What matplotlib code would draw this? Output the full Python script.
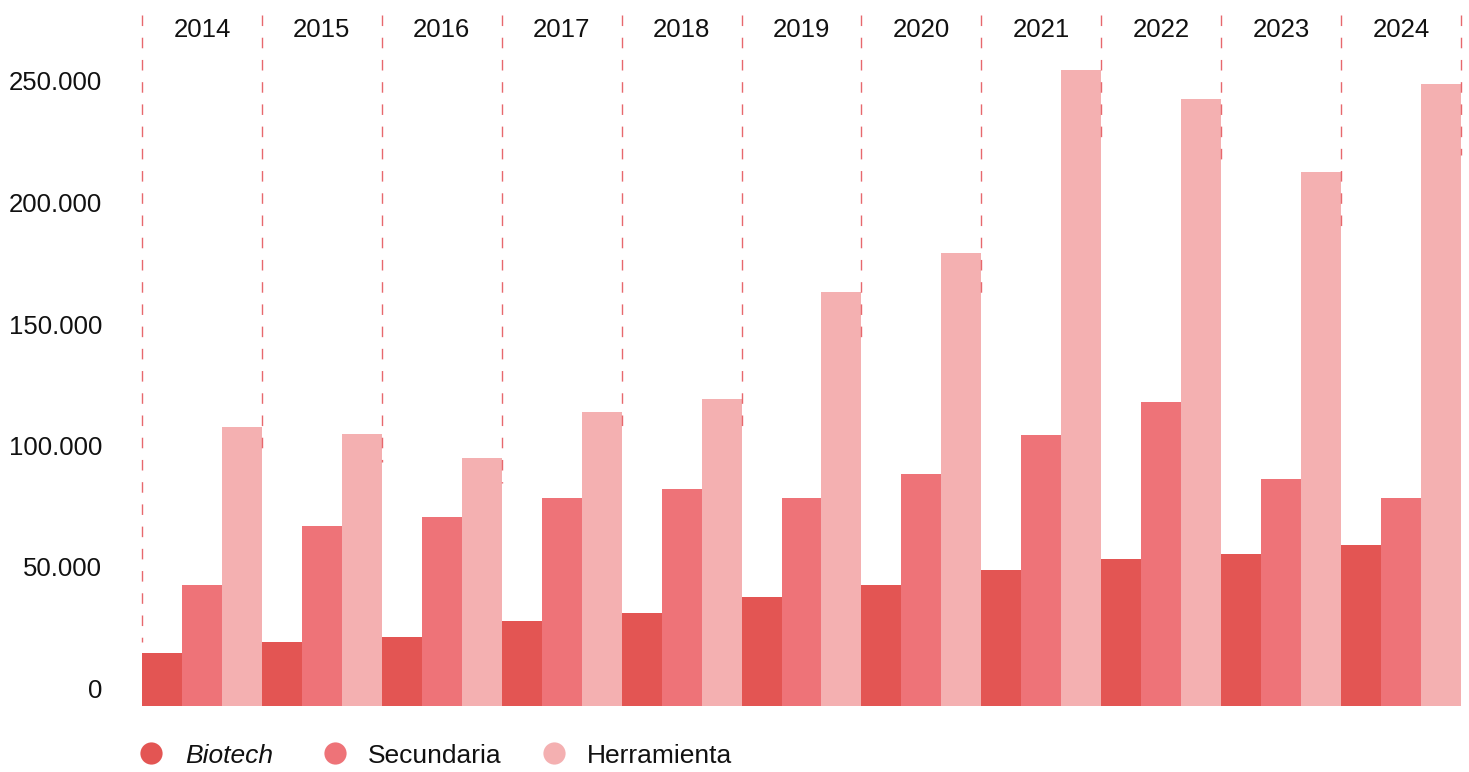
import matplotlib
matplotlib.use('Agg')
import matplotlib.pyplot as plt
import matplotlib.transforms as mtransforms
from matplotlib.lines import Line2D
import numpy as np

plt.rcParams['font.family'] = ['Liberation Sans', 'DejaVu Sans']

years = ['2014', '2015', '2016', '2017', '2018', '2019', '2020', '2021', '2022', '2023', '2024']
biotech = [21800, 26300, 28400, 35000, 38300, 44900, 49800, 56000, 60500, 62600, 66300]
secundaria = [49800, 74100, 77800, 85600, 89300, 85600, 95500, 111500, 125100, 93400, 85600]
herramienta = [114800, 111900, 102100, 121000, 126300, 170400, 186400, 261700, 249800, 219800, 256000]
# where each dashed year divider stops
divider_ends = [26300, 103300, 100400, 91800, 111100, 112800, 151900, 165800, 231700, 221400, 194700, 226700]
yticks = [0, 50000, 100000, 150000, 200000, 250000]

series = [('Biotech', biotech, '#e35553'),
          ('Secundaria', secundaria, '#ee7378'),
          ('Herramienta', herramienta, '#f4b0b1')]

W, H = 1469, 772
fig = plt.figure(figsize=(W / 100, H / 100), dpi=100)
ax = fig.add_axes([142 / W, 66 / H, 1319 / W, 691 / H])

x = np.arange(len(years))
bw = 1 / 3
for k, (name, vals, col) in enumerate(series):
    ax.bar(x + (k - 1) * bw, vals, width=bw, color=col, linewidth=0, zorder=2)

ytop = 691 / 121.5 * 50000
ax.set_xlim(-0.5, len(years) - 0.5)
ax.set_ylim(0, ytop)

# dashed dividers between years, drawn from the top downwards
for i, end in enumerate(divider_ends):
    xd = i - 0.5
    ax.plot([xd, xd], [ytop, end], color='#e5585d', lw=1.0, alpha=0.9,
            linestyle=(0, (7.6, 8.4)), zorder=3, clip_on=False,
            solid_capstyle='butt', dash_capstyle='butt')

# year labels on top
tr_top = mtransforms.blended_transform_factory(ax.transData, ax.transAxes) + \
    mtransforms.ScaledTranslation(0, -15 / 100, fig.dpi_scale_trans)
for i, y in enumerate(years):
    ax.text(i, 1, y, transform=tr_top, ha='center', va='center', fontsize=18.5,
            color='#111111')

# y labels, sitting a bit above their values
tr_y = mtransforms.blended_transform_factory(ax.transAxes, ax.transData) + \
    mtransforms.ScaledTranslation(-40 / 100, 8 / 100, fig.dpi_scale_trans)
for v in yticks:
    ax.text(0, v, f'{v:,}'.replace(',', '.'), transform=tr_y, ha='right',
            va='baseline', fontsize=18.5, color='#111111')

ax.set_xticks([])
ax.set_yticks([])
for s in ax.spines.values():
    s.set_visible(False)

# legend
leg_x = [(151, 185), (335, 368), (554, 587)]
for (name, vals, col), (cx, tx) in zip(series, leg_x):
    fig.add_artist(Line2D([cx / W], [(H - 753) / H], marker='o', markersize=16,
                          color=col, markeredgewidth=0, transform=fig.transFigure))
    fig.text(tx / W, (H - 763) / H, name, fontsize=19, color='#111111',
             va='baseline', style='italic' if name == 'Biotech' else 'normal')

fig.savefig('out.png', dpi=100)
